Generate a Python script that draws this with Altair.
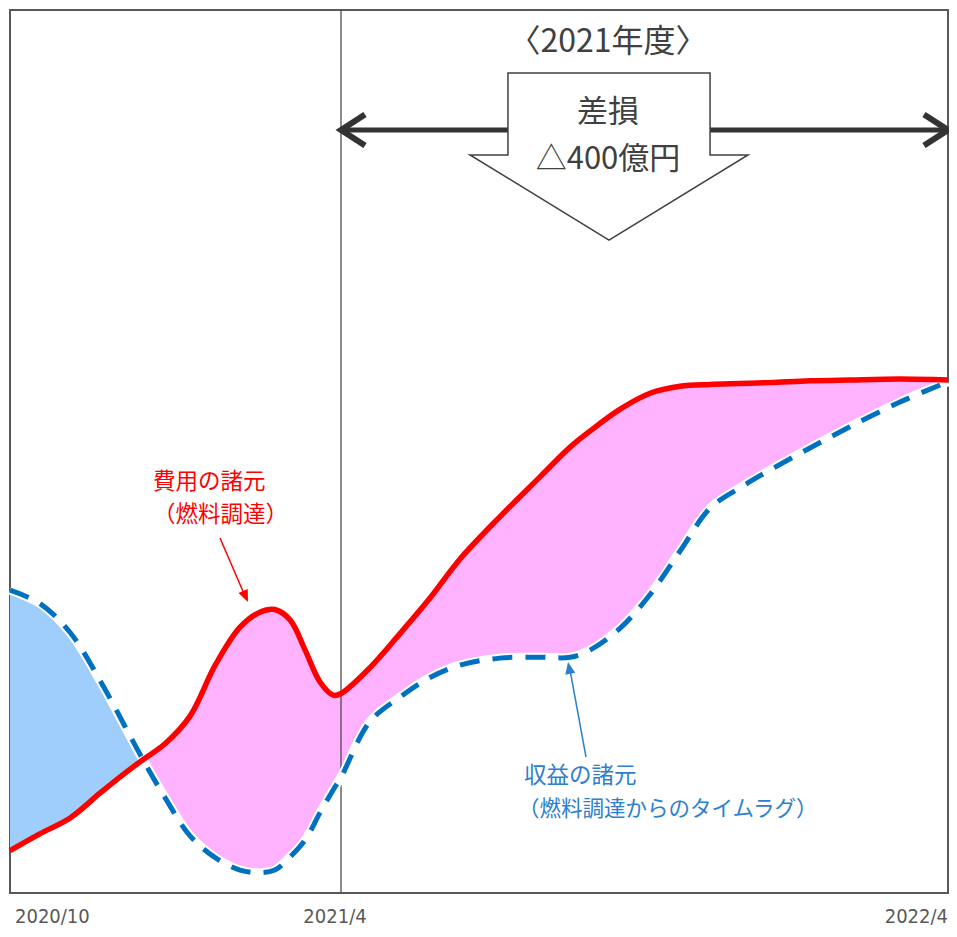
import altair as alt
import pandas as pd

# ---- data (x: months since 2020/10, y: relative level 0-100) ----
months = [0, 0.54, 1.09, 1.63, 2.09, 2.41, 2.81, 3.26, 3.72, 4.17, 4.53, 4.8, 5.08, 5.35,
          5.62, 5.86, 6.0, 6.57, 7.17, 7.76, 8.35, 9.14, 9.93, 10.53, 10.92, 11.52, 12.11,
          12.7, 13.3, 13.89, 14.48, 15.27, 16.06, 17.05, 18.0]
cost = [4.8, 6.7, 8.5, 11.3, 13.6, 15.1, 16.9, 20.0, 25.8, 30.1, 31.8, 32.1, 30.9, 27.5,
        23.9, 22.4, 22.6, 25.5, 29.4, 33.4, 37.8, 42.6, 47.1, 50.5, 52.3, 54.8, 56.6,
        57.4, 57.6, 57.7, 57.8, 58.0, 58.1, 58.2, 58.1]
revenue = [34.3, 32.8, 29.5, 24.1, 18.8, 15.1, 10.8, 6.5, 4.0, 2.6, 2.3, 2.6, 4.1, 6.0,
           9.1, 11.7, 13.1, 19.4, 22.2, 24.4, 25.8, 26.6, 26.7, 26.7, 27.5, 30.0, 33.8,
           38.7, 43.6, 45.9, 47.9, 50.4, 52.8, 55.6, 57.9]
crossing_index = 5
tick_months = [0, 6, 18]
tick_labels = ["2020/10", "2021/4", "2022/4"]
period_start = [6]
period_end = [18]

JP = "Noto Sans CJK JP"
NARROW = "DejaVu Sans Condensed, Liberation Sans Narrow, Noto Sans"
CURVE = "catmull-rom"
BLUE_TEXT = "#2E80CC"

df = pd.DataFrame({"month": months, "cost": cost, "revenue": revenue})
gain = df.iloc[: crossing_index + 1]
loss = df.iloc[crossing_index:]

x_scale = alt.Scale(domain=[0, 6, 18], range=[0, 331, 938], nice=False, zero=False)
y_scale = alt.Scale(domain=[0, 100], nice=False, zero=False)
X = alt.X("month:Q", scale=x_scale, axis=None)

area_gain = alt.Chart(gain).mark_area(color="#9FCEFD", opacity=1, interpolate=CURVE).encode(
    x=X, y=alt.Y("revenue:Q", scale=y_scale, axis=None), y2="cost:Q")
area_loss = alt.Chart(loss).mark_area(color="#FFB3FF", opacity=1, interpolate=CURVE).encode(
    x=X, y=alt.Y("revenue:Q", scale=y_scale, axis=None), y2="cost:Q")

vline = alt.Chart(pd.DataFrame({"month": [tick_months[1]]})).mark_rule(
    color="#404040", strokeWidth=1.2).encode(x=X)

halo = alt.Chart(df).mark_line(color="white", strokeWidth=9, interpolate=CURVE).encode(
    x=X, y=alt.Y("revenue:Q", scale=y_scale, axis=None))
rev_line = alt.Chart(df).mark_line(color="#0070C0", strokeWidth=5, strokeDash=[20, 13],
                                   interpolate=CURVE).encode(
    x=X, y=alt.Y("revenue:Q", scale=y_scale, axis=None))
cost_line = alt.Chart(df).mark_line(color="#FF0000", strokeWidth=5.5, interpolate=CURVE).encode(
    x=X, y=alt.Y("cost:Q", scale=y_scale, axis=None))

period = pd.DataFrame({"start": period_start, "end": period_end})
period_rule = alt.Chart(period).mark_rule(color="#333333", strokeWidth=5).encode(
    x=alt.X("start:Q", scale=x_scale, axis=None), x2="end:Q", y=alt.value(120))
chev_left = alt.Chart(period).mark_point(
    shape="M1,-0.65 L0,0 L1,0.65", filled=False, strokeWidth=6, size=2304, color="#333333",
    opacity=1, strokeJoin="miter").encode(x=alt.X("start:Q", scale=x_scale, axis=None), y=alt.value(120))
chev_right = alt.Chart(period).mark_point(
    shape="M-1,-0.65 L0,0 L-1,0.65", filled=False, strokeWidth=6, size=2304, color="#333333",
    opacity=1, strokeJoin="miter").encode(x=alt.X("end:Q", scale=x_scale, axis=None), y=alt.value(120))

one = pd.DataFrame({"k": [0]})
big_arrow = alt.Chart(one).mark_point(
    shape="M-0.727,-0.601 L0.727,-0.601 L0.727,-0.011 L1,-0.011 L0,0.601 L-1,-0.011 L-0.727,-0.011 Z",
    filled=True, fill="white", stroke="#404040", strokeWidth=1.5, size=77284, opacity=1
).encode(x=alt.value(599), y=alt.value(146.5))

def label(text, x, y, size, color, align="center"):
    return alt.Chart(one).mark_text(text=text, font=JP, fontSize=size, color=color,
                                    align=align, baseline="middle").encode(
        x=alt.value(x), y=alt.value(y))

fy_text = label("〈2021年度〉", 598, 32, 32, "#404040")
loss_t1 = label("差損", 598, 103, 31, "#404040")
loss_t2 = label("△400億円", 598, 150, 31, "#404040")

red_t1 = label("費用の諸元", 143, 472, 22.5, "#FF0000", "left")
red_t2 = label("（燃料調達）", 143, 505, 22.5, "#FF0000", "left")
blue_t1 = label("収益の諸元", 514, 766, 22.5, BLUE_TEXT, "left")
blue_t2 = label("（燃料調達からのタイムラグ）", 508, 800, 21.5, BLUE_TEXT, "left")

red_shaft = alt.Chart(one).mark_rule(color="#FF0000", strokeWidth=1.5).encode(
    x=alt.value(210), y=alt.value(528), x2=alt.value(235), y2=alt.value(586))
red_head = alt.Chart(one).mark_point(shape="M0,0 L-0.42,1 L0.42,1 Z", filled=True, color="#FF0000",
                                     opacity=1, size=576, angle=156).encode(
    x=alt.value(238), y=alt.value(592))
blue_shaft = alt.Chart(one).mark_rule(color=BLUE_TEXT, strokeWidth=1.5).encode(
    x=alt.value(576), y=alt.value(747), x2=alt.value(560), y2=alt.value(660))
blue_head = alt.Chart(one).mark_point(shape="M0,0 L-0.42,1 L0.42,1 Z", filled=True, color=BLUE_TEXT,
                                      opacity=1, size=576, angle=349).encode(
    x=alt.value(558), y=alt.value(652))

ticks = pd.DataFrame({"month": tick_months, "label": tick_labels})
aligns = ["left", "center", "right"]
dxs = [5, -6, 0]
tick_layers = []
for i in range(3):
    tick_layers.append(
        alt.Chart(ticks).transform_filter(alt.datum.label == tick_labels[i]).mark_text(
            font=NARROW, fontSize=20, color="#595959", align=aligns[i], baseline="alphabetic", dx=dxs[i]
        ).encode(x=X, y=alt.value(913), text="label:N"))

chart = alt.layer(
    area_gain, area_loss, vline, halo, rev_line, cost_line,
    period_rule, chev_left, chev_right, big_arrow,
    fy_text, loss_t1, loss_t2, red_t1, red_t2, blue_t1, blue_t2,
    red_shaft, red_head, blue_shaft, blue_head, *tick_layers
).properties(
    width=938, height=883,
    autosize=alt.AutoSizeParams(type="none"),
    padding={"left": 2, "top": 2, "right": 1, "bottom": 36}
).configure_view(stroke="#595959", strokeWidth=2)

chart.save("out.html", embed_options={"renderer": "svg", "actions": False})
